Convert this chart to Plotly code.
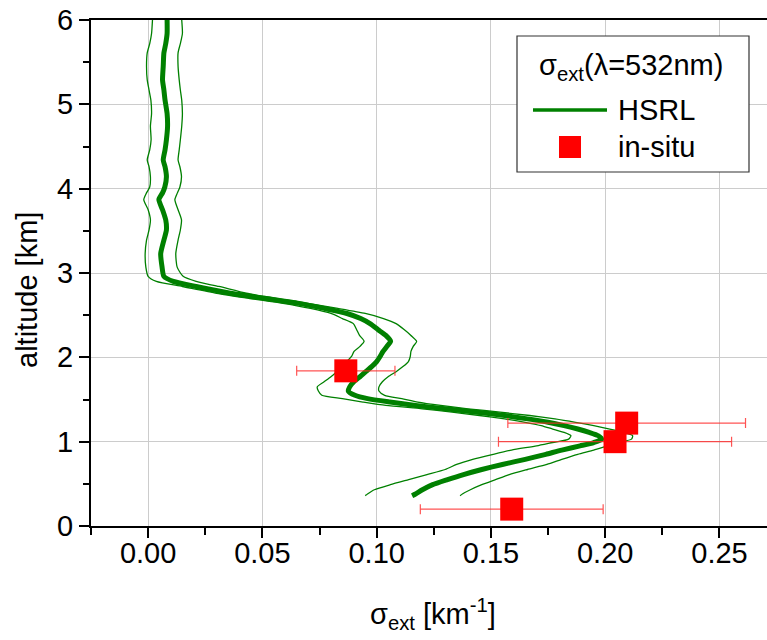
import plotly.graph_objects as go

# HSRL extinction profile (km) with lower / upper uncertainty bounds (km^-1)
altitude = [6.00, 5.84, 5.72, 5.61, 5.45, 5.29, 5.17, 5.05, 4.89, 4.74, 4.58, 4.46,
            4.34, 4.26, 4.14, 4.02, 3.95, 3.87, 3.75, 3.63, 3.51, 3.39, 3.23, 3.07,
            2.96, 2.90, 2.84, 2.76, 2.70, 2.64, 2.58, 2.52, 2.46, 2.40, 2.33, 2.26,
            2.19, 2.13, 2.07, 2.01, 1.95, 1.89, 1.83, 1.77, 1.71, 1.65, 1.60, 1.55,
            1.51, 1.47, 1.43, 1.39, 1.35, 1.31, 1.27, 1.23, 1.19, 1.15, 1.11, 1.07,
            1.03, 0.99, 0.95, 0.90, 0.85, 0.79, 0.73, 0.67, 0.61, 0.55, 0.49, 0.43,
            0.38, 0.36]

hsrl_mean = [0.0083, 0.0083, 0.0077, 0.0069, 0.0066, 0.0063, 0.0069, 0.0074, 0.0083, 0.0085,
             0.0080, 0.0074, 0.0066, 0.0074, 0.0080, 0.0073, 0.0063, 0.0047, 0.0063, 0.0077,
             0.0080, 0.0069, 0.0055, 0.0061, 0.0069, 0.0110, 0.0210, 0.0360, 0.0510, 0.0660,
             0.0770, 0.0870, 0.0930, 0.0971, 0.1005, 0.1040, 0.1061, 0.1045, 0.1028, 0.1015,
             0.1000, 0.0978, 0.0952, 0.0927, 0.0900, 0.0882, 0.0876, 0.0905, 0.0960, 0.1058,
             0.1170, 0.1300, 0.1440, 0.1560, 0.1660, 0.1750, 0.1820, 0.1880, 0.1930, 0.1970,
             0.1985, 0.1950, 0.1890, 0.1810, 0.1740, 0.1650, 0.1550, 0.1460, 0.1380, 0.1310,
             0.1245, 0.1200, 0.1170, 0.1155]

hsrl_low = [0.0019, 0.0015, 0.0007, -0.0004, -0.0007, -0.0004, 0.0004, 0.0012, 0.0015, 0.0010,
            0.0013, 0.0007, -0.0004, 0.0004, 0.0010, 0.0007, -0.0007, -0.0019, 0.0000, 0.0010,
            0.0004, -0.0007, -0.0013, -0.0010, 0.0000, 0.0036, 0.0150, 0.0300, 0.0440, 0.0590,
            0.0710, 0.0800, 0.0850, 0.0898, 0.0912, 0.0925, 0.0945, 0.0927, 0.0901, 0.0890,
            0.0870, 0.0850, 0.0825, 0.0800, 0.0770, 0.0740, 0.0745, 0.0760, 0.0850, 0.0940,
            0.1040, 0.1200, 0.1330, 0.1450, 0.1560, 0.1650, 0.1720, 0.1770, 0.1820, 0.1850,
            0.1840, 0.1770, 0.1700, 0.1590, 0.1510, 0.1420, 0.1350, 0.1300, 0.1220, 0.1140,
            0.1060, 0.0990, 0.0960, 0.0950]

hsrl_high = [0.0147, 0.0150, 0.0141, 0.0131, 0.0131, 0.0136, 0.0141, 0.0147, 0.0150, 0.0147,
             0.0141, 0.0136, 0.0131, 0.0139, 0.0146, 0.0139, 0.0128, 0.0117, 0.0131, 0.0146,
             0.0141, 0.0131, 0.0121, 0.0127, 0.0153, 0.0210, 0.0310, 0.0430, 0.0560, 0.0700,
             0.0830, 0.0950, 0.1030, 0.1085, 0.1120, 0.1150, 0.1175, 0.1160, 0.1150, 0.1147,
             0.1139, 0.1115, 0.1085, 0.1050, 0.1025, 0.1010, 0.1010, 0.1035, 0.1110, 0.1180,
             0.1280, 0.1400, 0.1540, 0.1670, 0.1780, 0.1870, 0.1950, 0.2020, 0.2080, 0.2120,
             0.2115, 0.2060, 0.2010, 0.1950, 0.1880, 0.1810, 0.1745, 0.1660, 0.1580, 0.1520,
             0.1460, 0.1410, 0.1375, 0.1365]

# In-situ extinction measurements with their uncertainty
insitu_alt = [1.84, 1.22, 1.00, 0.20]
insitu_ext = [0.0865, 0.2094, 0.2043, 0.1591]
insitu_err = [0.0215, 0.0520, 0.0510, 0.0400]

x_ticks = [0.00, 0.05, 0.10, 0.15, 0.20, 0.25]
y_ticks = [0, 1, 2, 3, 4, 5, 6]

GREEN = "#008000"
RED = "#ff0000"
FONT = "Liberation Sans, Arial, sans-serif"
FS = 29

fig = go.Figure()

for bound in (hsrl_low, hsrl_high):
    fig.add_trace(go.Scatter(x=bound, y=altitude, mode="lines",
                             line=dict(color=GREEN, width=1.3, shape="spline", smoothing=0.6),
                             showlegend=False, hoverinfo="skip"))

fig.add_trace(go.Scatter(x=hsrl_mean, y=altitude, mode="lines", name="HSRL",
                         line=dict(color=GREEN, width=5, shape="spline", smoothing=0.6),
                         showlegend=False))

fig.add_trace(go.Scatter(x=insitu_ext, y=insitu_alt, mode="markers", name="in-situ",
                         marker=dict(symbol="square", size=23, color=RED, line=dict(width=0)),
                         error_x=dict(type="data", array=insitu_err, visible=True,
                                      color="rgba(255,40,40,0.8)", thickness=1.2, width=5),
                         showlegend=False))

# plot area in pixels: x 91..767, y 20..526
L, R, T, B = 91, 767, 20, 526
W, H = 767, 640


def px(x):
    return (x - L) / (R - L)


def py(y):
    return (B - y) / (B - T)


fig.update_layout(
    width=W, height=H,
    margin=dict(l=L, r=W - R, t=T, b=H - B, pad=0),
    paper_bgcolor="white", plot_bgcolor="white",
    font=dict(family=FONT, size=FS, color="black"),
    showlegend=False,
    xaxis=dict(range=[-0.025, 0.2708], tickvals=x_ticks, tickformat=".2f",
               showgrid=True, gridcolor="#cccccc", gridwidth=1, zeroline=False,
               showline=True, linecolor="black", linewidth=2, mirror=True,
               ticks="outside", ticklen=10, tickwidth=2, tickcolor="black",
               ticklabelstandoff=-10,
               minor=dict(dtick=0.025, tick0=0, ticks="outside", ticklen=7,
                          tickwidth=2, tickcolor="black", showgrid=False),
               tickfont=dict(family=FONT, size=FS)),
    yaxis=dict(range=[0, 6], tickvals=y_ticks,
               showgrid=True, gridcolor="#cccccc", gridwidth=1, zeroline=False,
               showline=True, linecolor="black", linewidth=2, mirror=False,
               ticks="outside", ticklen=10, tickwidth=2, tickcolor="black",
               minor=dict(dtick=0.5, tick0=0, ticks="outside", ticklen=6,
                          tickwidth=2, tickcolor="black", showgrid=False),
               tickfont=dict(family=FONT, size=FS)),
)

annotations = [
    dict(text="altitude [km]", x=px(27), y=py(290), xref="paper", yref="paper",
         textangle=-90, showarrow=False, xanchor="center", yanchor="middle",
         font=dict(family=FONT, size=FS)),
    dict(text="σ<sub>ext</sub> [km<sup>-1</sup>]", x=px(433), y=py(614),
         xref="paper", yref="paper", showarrow=False,
         xanchor="center", yanchor="middle", font=dict(family=FONT, size=FS)),
    # legend box contents
    dict(text="σ<sub>ext</sub>(λ=532nm)", x=px(631), y=py(67), xref="paper", yref="paper",
         showarrow=False, xanchor="center", yanchor="middle",
         font=dict(family=FONT, size=FS)),
    dict(text="HSRL", x=px(616), y=py(110), xref="paper", yref="paper",
         showarrow=False, xanchor="left", yanchor="middle",
         font=dict(family=FONT, size=FS)),
    dict(text="in-situ", x=px(616), y=py(147), xref="paper", yref="paper",
         showarrow=False, xanchor="left", yanchor="middle",
         font=dict(family=FONT, size=FS)),
]
fig.update_layout(annotations=annotations)

shapes = [
    dict(type="rect", xref="paper", yref="paper", x0=px(517), x1=px(749),
         y0=py(172), y1=py(36), line=dict(color="#333333", width=1.2),
         fillcolor="white", layer="above"),
    dict(type="line", xref="paper", yref="paper", x0=px(533), x1=px(607),
         y0=py(110), y1=py(110), line=dict(color=GREEN, width=3.5), layer="above"),
    dict(type="rect", xref="paper", yref="paper", x0=px(559), x1=px(581),
         y0=py(158), y1=py(136), line=dict(width=0), fillcolor=RED, layer="above"),
]
fig.update_layout(shapes=shapes)

fig.write_html("out.html")
